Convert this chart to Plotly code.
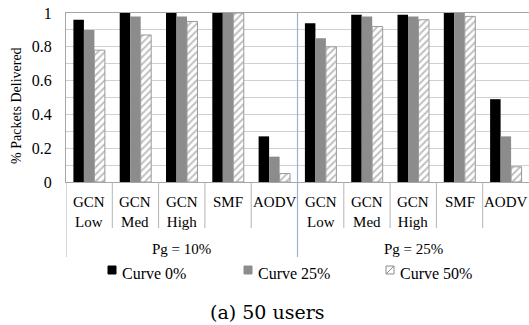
import plotly.graph_objects as go

# Routing schemes, grouped by gateway probability
schemes = ["GCN<br>Low", "GCN<br>Med", "GCN<br>High", "SMF", "AODV"]
pg_groups = ["Pg = 10%", "Pg = 25%"]
series_names = ["Curve 0%", "Curve 25%", "Curve 50%"]

curve0 = [0.96, 1.00, 1.00, 1.00, 0.27, 0.94, 0.99, 0.99, 1.00, 0.49]
curve25 = [0.90, 0.98, 0.98, 1.00, 0.15, 0.85, 0.98, 0.98, 1.00, 0.27]
curve50 = [0.78, 0.87, 0.95, 1.00, 0.05, 0.80, 0.92, 0.96, 0.98, 0.09]

y_ticks = [0, 0.2, 0.4, 0.6, 0.8, 1]

W, H = 529, 325
L, R, T, B = 66, 0, 13, 143
plot_w = W - L - R
plot_h = H - T - B
FONT = "Liberation Serif"
CAP_FONT = "DejaVu Serif"
GRID = "#d0d0d0"
AXIS = "#a6a6a6"
SEP = "#b4b4b4"
PG_SEP = "#9fb1d3"
GRAY = "#8c8c8c"


def py(pix):
    """Screen row -> paper y."""
    return (H - B - pix) / plot_h


def px(pix):
    """Screen column -> paper x."""
    return (pix - L) / plot_w


n = len(schemes) * len(pg_groups)
xs = list(range(n))

fig = go.Figure()
fig.add_trace(go.Bar(x=xs, y=curve0, name=series_names[0],
                     marker=dict(color="black", line=dict(width=0)), showlegend=False))
fig.add_trace(go.Bar(x=xs, y=curve25, name=series_names[1],
                     marker=dict(color=GRAY, line=dict(width=0)), showlegend=False))
fig.add_trace(go.Bar(x=xs, y=curve50, name=series_names[2],
                     marker=dict(color="white", line=dict(color="#9a9a9a", width=1),
                                 pattern=dict(shape="/", fgcolor="#808080", bgcolor="white",
                                              size=5, solidity=0.4)),
                     showlegend=False))

shapes = []
annotations = []

# category labels and dividers below the axis
for g, pg in enumerate(pg_groups):
    for s, name in enumerate(schemes):
        i = g * len(schemes) + s
        annotations.append(dict(x=i, y=py(192), xref="x", yref="paper", text=name,
                                showarrow=False, yanchor="top",
                                font=dict(family=FONT, size=15, color="black")))
        if s > 0:
            shapes.append(dict(type="line", xref="x", yref="paper", x0=i - 0.5, x1=i - 0.5,
                               y0=0, y1=py(228), line=dict(color=SEP, width=1)))
    center = g * len(schemes) + (len(schemes) - 1) / 2
    annotations.append(dict(x=center, y=py(249), xref="x", yref="paper", text=pg,
                            showarrow=False, yanchor="middle",
                            font=dict(family=FONT, size=15, color="black")))

# outer dividers
shapes.append(dict(type="line", xref="x", yref="paper", x0=-0.5, x1=-0.5,
                   y0=0, y1=py(257), line=dict(color=SEP, width=1)))
shapes.append(dict(type="line", xref="x", yref="paper", x0=4.5, x1=4.5,
                   y0=1, y1=py(257), line=dict(color=PG_SEP, width=1.2)))

# legend
leg_y0, leg_y1 = py(274), py(266)
leg_items = [(108, 120, "black", None), (244, 256, GRAY, None), (386, 398, "white", "#8a8a8a")]
for (sx, tx, fill, edge), label in zip(leg_items, series_names):
    shapes.append(dict(type="rect", xref="paper", yref="paper",
                       x0=px(sx), x1=px(sx + 8), y0=leg_y0, y1=leg_y1,
                       fillcolor=fill, line=dict(color=edge or fill, width=1)))
    if edge:
        shapes.append(dict(type="line", xref="paper", yref="paper",
                           x0=px(sx), x1=px(sx + 8), y0=leg_y0, y1=leg_y1,
                           line=dict(color=edge, width=1)))
    annotations.append(dict(x=px(tx), y=py(273), xref="paper", yref="paper", text=label,
                            showarrow=False, xanchor="left", yanchor="middle",
                            font=dict(family=FONT, size=16, color="black")))

# y axis title
annotations.append(dict(x=px(17), y=py(106), xref="paper", yref="paper",
                        text="% Packets Delivered", textangle=-90, showarrow=False,
                        xanchor="center", yanchor="middle",
                        font=dict(family=FONT, size=14, color="black")))

# caption
annotations.append(dict(x=px(267), y=py(312), xref="paper", yref="paper",
                        text="(a) 50 users", showarrow=False,
                        xanchor="center", yanchor="middle",
                        font=dict(family=CAP_FONT, size=19, color="black")))

fig.update_layout(
    width=W, height=H,
    margin=dict(l=L, r=R, t=T, b=B, pad=0),
    paper_bgcolor="white", plot_bgcolor="white",
    barmode="group", bargap=0.32, bargroupgap=0,
    showlegend=False,
    font=dict(family=FONT),
    xaxis=dict(range=[-0.5, n - 0.5], showticklabels=False, ticks="", showgrid=False,
               zeroline=False, showline=True, linecolor=AXIS, linewidth=1, mirror=True),
    yaxis=dict(range=[0, 1], tickvals=y_ticks, ticktext=[f"{v:g}" for v in y_ticks],
               showgrid=True, gridcolor=GRID, gridwidth=1, zeroline=False,
               showline=True, linecolor=AXIS, linewidth=1,
               ticks="", ticklabelstandoff=10,
               tickfont=dict(family=FONT, size=16, color="black"),
               minor=dict(dtick=0.1, tick0=0, showgrid=True, gridcolor=GRID, gridwidth=1)),
    shapes=shapes, annotations=annotations,
)

fig.write_html("out.html")
